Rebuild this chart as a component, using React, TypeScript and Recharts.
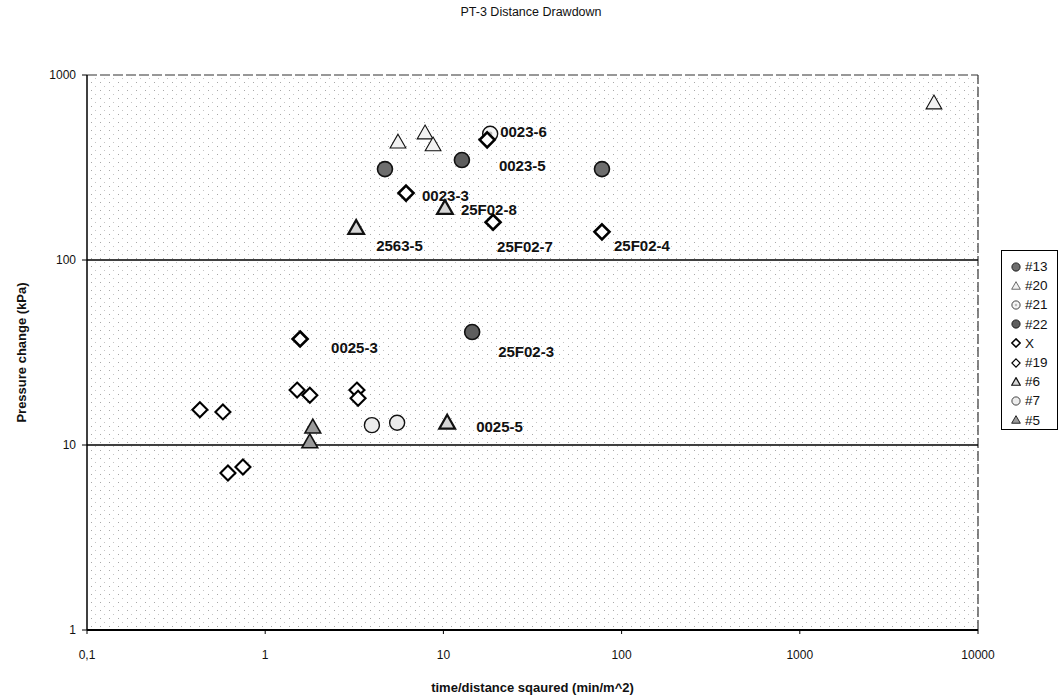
import React from "react";
import {
  ScatterChart,
  Scatter,
  XAxis,
  YAxis,
  ReferenceLine,
  ReferenceArea,
  Legend,
  Label,
} from "recharts";

// ---------- data (x = time/distance^2, y = pressure change) ----------
const s13 = [
  { x: 4.7, y: 310 },
  { x: 77.6, y: 310 },
];
const s20 = [
  { x: 5.56, y: 434 },
  { x: 7.89, y: 486 },
  { x: 8.75, y: 419 },
  { x: 5660, y: 706 },
];
const s21 = [{ x: 18.3, y: 481, label: "0023-6" }];
const s22 = [
  { x: 12.7, y: 347, label: "0023-5" },
  { x: 14.5, y: 40.8, label: "25F02-3" },
];
const sX = [
  { x: 6.17, y: 230, label: "0023-3" },
  { x: 19.0, y: 160, label: "25F02-7" },
  { x: 77.6, y: 142, label: "25F02-4" },
  { x: 1.57, y: 37.4, label: "0025-3" },
  { x: 17.6, y: 446 },
];
const s19 = [
  { x: 1.51, y: 19.8 },
  { x: 1.78, y: 18.6 },
  { x: 3.27, y: 19.8 },
  { x: 3.32, y: 17.9 },
  { x: 0.43, y: 15.5 },
  { x: 0.579, y: 15.1 },
  { x: 0.618, y: 7.06 },
  { x: 0.75, y: 7.6 },
];
const s6 = [
  { x: 10.2, y: 191, label: "25F02-8" },
  { x: 3.24, y: 149, label: "2563-5" },
  { x: 10.5, y: 13.2, label: "0025-5" },
];
const s7 = [
  { x: 3.97, y: 12.8 },
  { x: 5.5, y: 13.2 },
];
const s5 = [
  { x: 1.85, y: 12.5 },
  { x: 1.78, y: 10.4 },
];

const xTicks = [0.1, 1, 10, 100, 1000, 10000];
const yTicks = [1, 10, 100, 1000];
const seriesNames = ["#13", "#20", "#21", "#22", "X", "#19", "#6", "#7", "#5"];

// label offsets (style only): [dx, dy] from marker centre
const LABEL_OFFSET: Record<string, [number, number]> = {
  "0023-6": [10, -2],
  "0023-5": [37, 5],
  "0023-3": [16, 2],
  "25F02-8": [16, 1],
  "2563-5": [20, 18],
  "25F02-7": [4, 24],
  "25F02-4": [12, 14],
  "0025-3": [31, 8],
  "25F02-3": [26, 19],
  "0025-5": [29, 4],
};

const FONT = "Arial, 'Liberation Sans', Helvetica, sans-serif";

type Kind =
  | "dotFill"
  | "triLight"
  | "circRing"
  | "dotFill2"
  | "diamondBold"
  | "diamond"
  | "triBold"
  | "circ"
  | "triGray";

function Marker({ kind, cx, cy, s = 1 }: { kind: Kind; cx: number; cy: number; s?: number }) {
  const r = 7.5 * s;
  switch (kind) {
    case "dotFill":
    case "dotFill2":
      return (
        <circle cx={cx} cy={cy} r={r} fill={kind === "dotFill" ? "#6e6e6e" : "#5e5e5e"} stroke="#111" strokeWidth={1.6 * s} />
      );
    case "circRing":
      return (
        <g>
          <circle cx={cx} cy={cy} r={r} fill="#f4f4f4" stroke="#111" strokeWidth={1.4 * s} />
          <circle cx={cx} cy={cy} r={r * 0.3} fill="#bbb" />
        </g>
      );
    case "circ":
      return <circle cx={cx} cy={cy} r={r} fill="#ececec" stroke="#111" strokeWidth={1.4 * s} />;
    case "diamondBold":
    case "diamond": {
      const d = r * 1.0;
      return (
        <path
          d={`M${cx},${cy - d}L${cx + d},${cy}L${cx},${cy + d}L${cx - d},${cy}Z`}
          fill="#fff"
          stroke="#000"
          strokeWidth={(kind === "diamondBold" ? 2.6 : 2.1) * s}
          strokeLinejoin="miter"
        />
      );
    }
    default: {
      const h = r * 1.05;
      const pts = `${cx},${cy - h} ${cx + h},${cy + h * 0.75} ${cx - h},${cy + h * 0.75}`;
      const fill = kind === "triGray" ? "#9a9a9a" : kind === "triBold" ? "#d6d6d6" : "#f2f2f2";
      const sw = kind === "triLight" ? 1.1 : kind === "triBold" ? 2.2 : 1.6;
      return <polygon points={pts} fill={fill} stroke="#111" strokeWidth={sw * s} strokeLinejoin="miter" />;
    }
  }
}

const kinds: Kind[] = [
  "dotFill",
  "triLight",
  "circRing",
  "dotFill2",
  "diamondBold",
  "diamond",
  "triBold",
  "circ",
  "triGray",
];

const makeShape = (kind: Kind) => (p: any) => {
  const { cx, cy, payload } = p;
  const lab: string | undefined = payload && payload.label;
  const off = lab ? LABEL_OFFSET[lab] || [12, 0] : [0, 0];
  return (
    <g>
      <Marker kind={kind} cx={cx} cy={cy} />
      {lab ? (
        <text
          x={cx + off[0]}
          y={cy + off[1]}
          dominantBaseline="central"
          fontFamily={FONT}
          fontSize={15}
          fontWeight="bold"
          fill="#111"
        >
          {lab}
        </text>
      ) : null}
    </g>
  );
};

const DotsBg = (p: any) => {
  const { x, y, width, height } = p;
  return (
    <g>
      <defs>
        <pattern id="stip" width="9" height="8" patternUnits="userSpaceOnUse">
          <rect width="9" height="8" fill="#fff" />
          <rect x="1" y="2" width="1" height="1" fill="#a8a8a8" />
          <rect x="5" y="6" width="1" height="1" fill="#c4c4c4" />
        </pattern>
      </defs>
      <rect x={x} y={y} width={width} height={height} fill="url(#stip)" />
    </g>
  );
};

const LegendBox = () => (
  <div
    style={{
      border: "1px solid #000",
      background: "#fff",
      width: 57,
      height: 180,
      boxSizing: "border-box",
      paddingTop: 6,
      fontFamily: FONT,
      fontSize: 13.5,
      color: "#111",
    }}
  >
    {seriesNames.map((n, i) => (
      <div key={n} style={{ height: 19.2, display: "flex", alignItems: "center", paddingLeft: 9 }}>
        <svg width={10} height={10} style={{ marginRight: 4 }}>
          <Marker kind={kinds[i]} cx={5} cy={5} s={0.55} />
        </svg>
        <span>{n}</span>
      </div>
    ))}
  </div>
);

const fmt = (v: number) => (v === 0.1 ? "0,1" : String(v));

export default function App() {
  const all = [s13, s20, s21, s22, sX, s19, s6, s7, s5];
  return (
    <div style={{ position: "absolute", left: 0, top: 0, width: 1062, height: 700, background: "#fff" }}>
      <div
        style={{
          position: "absolute",
          left: 0,
          top: 5,
          width: 1062,
          textAlign: "center",
          fontFamily: FONT,
          fontSize: 12.5,
          color: "#111",
        }}
      >
        PT-3 Distance Drawdown
      </div>
      <ScatterChart width={1062} height={700} margin={{ top: 75, right: 84, bottom: 0, left: 0 }}>
        <ReferenceArea x1={0.1} x2={10000} y1={1} y2={1000} shape={DotsBg} ifOverflow="visible" />
        <XAxis
          type="number"
          dataKey="x"
          scale="log"
          domain={[0.1, 10000]}
          ticks={xTicks}
          tickFormatter={fmt}
          allowDataOverflow
          height={70}
          tickSize={4}
          tickMargin={16}
          axisLine={{ stroke: "#000", strokeWidth: 2 }}
          tickLine={{ stroke: "#000" }}
          tick={{ fill: "#111", fontSize: 12, fontFamily: FONT }}
        >
          <Label
            content={(props: any) => {
              const vb = props.viewBox;
              return (
                <text
                  x={vb.x + vb.width / 2}
                  y={vb.y + 57}
                  textAnchor="middle"
                  dominantBaseline="central"
                  fontFamily={FONT}
                  fontSize={13}
                  fontWeight="bold"
                  fill="#111"
                >
                  time/distance sqaured (min/m^2)
                </text>
              );
            }}
          />
        </XAxis>
        <YAxis
          type="number"
          dataKey="y"
          scale="log"
          domain={[1, 1000]}
          ticks={yTicks}
          allowDataOverflow
          width={87}
          tickSize={5}
          tickMargin={6}
          axisLine={{ stroke: "#000", strokeWidth: 1.5 }}
          tickLine={{ stroke: "#000" }}
          tick={{ fill: "#111", fontSize: 12, fontFamily: FONT }}
        >
          <Label
            content={(props: any) => {
              const vb = props.viewBox;
              const cx = 21;
              const cy = vb.y + vb.height / 2;
              return (
                <text
                  x={cx}
                  y={cy}
                  textAnchor="middle"
                  dominantBaseline="central"
                  transform={`rotate(-90 ${cx} ${cy})`}
                  fontFamily={FONT}
                  fontSize={13}
                  fontWeight="bold"
                  fill="#111"
                >
                  Pressure change (kPa)
                </text>
              );
            }}
          />
        </YAxis>
        <ReferenceLine y={1000} stroke="#333" strokeDasharray="10 3" strokeWidth={1.2} />
        <ReferenceLine x={10000} stroke="#333" strokeDasharray="10 3" strokeWidth={1.2} />
        <ReferenceLine y={100} stroke="#000" strokeWidth={1.6} />
        <ReferenceLine y={10} stroke="#000" strokeWidth={1.6} />
        {all.map((d, i) => (
          <Scatter
            key={seriesNames[i]}
            name={seriesNames[i]}
            data={d}
            shape={makeShape(kinds[i])}
            isAnimationActive={false}
          />
        ))}
        <Legend
          layout="vertical"
          align="center"
          verticalAlign="middle"
          content={LegendBox}
          wrapperStyle={{ left: 1001, top: 250, width: 57, height: 180 }}
        />
      </ScatterChart>
    </div>
  );
}
